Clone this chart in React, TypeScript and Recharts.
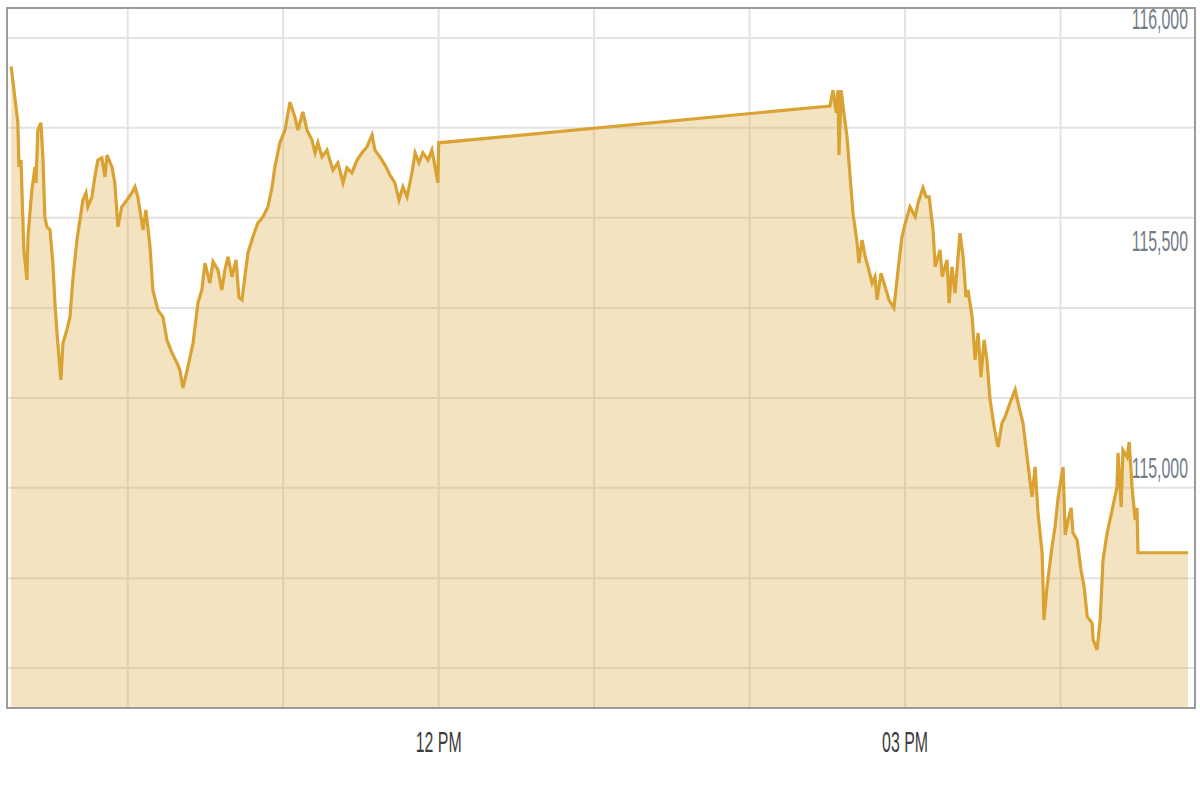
import React from 'react'
import { AreaChart, Area, XAxis, YAxis, CartesianGrid, ReferenceArea } from 'recharts'

// minutes since midnight (9:15 AM -> 555)
const times = [
  555, 557.6, 558.0, 558.8, 559.9, 561.1, 561.5, 563.0, 564.2, 564.6,
  565.3, 566.5, 567.3, 568.0, 568.8, 570.0, 571.1, 571.9, 572.7, 574.2,
  575.0, 576.5, 577.7, 578.8, 580.4, 582.7, 583.9, 584.6, 586.2, 587.3,
  588.5, 590.0, 591.2, 592.0, 593.9, 595.0, 596.2, 597.7, 599.7, 601.6,
  602.8, 603.9, 605.9, 607.0, 608.6, 609.7, 611.6, 613.6, 615.1, 617.1,
  619.0, 620.1, 621.3, 623.2, 625.2, 627.1, 628.6, 629.8, 631.7, 632.9,
  634.8, 636.3, 637.5, 638.7, 640.2, 641.8, 642.9, 644.1, 645.2, 646.4,
  648.3, 650.2, 652.2, 654.1, 655.7, 656.8, 658.7, 660.7, 662.6, 664.5,
  665.7, 667.6, 669.2, 671.1, 672.3, 673.4, 675.0, 676.9, 678.0, 679.2,
  681.1, 683.1, 684.6, 686.5, 688.5, 690.4, 692.3, 694.3, 695.4, 697.3,
  699.3, 701.2, 703.1, 704.7, 706.2, 707.8, 709.7, 710.9, 712.4, 713.9,
  715.9, 717.4, 718.6, 719.7, 720,
  871.0, 872.2, 873.4, 874.1, 874.5, 875.3, 876.1, 877.6, 878.8, 879.9,
  881.5, 882.2, 883.4, 884.6, 885.7, 887.3, 888.4, 889.2, 890.7, 892.3,
  893.8, 895.7, 897.3, 898.8, 900.4, 901.9, 903.9, 905.0, 906.9, 908.1,
  909.3, 910.8, 911.6, 913.5, 914.3, 916.2, 917.0, 918.1, 919.3, 921.2, 922.4,
  923.5, 924.3, 925.9, 927.0, 928.2, 929.3, 930.5, 931.6, 932.8, 934.4,
  935.1, 935.9, 937.4, 938.6, 940.5, 942.5, 944.0, 945.5, 947.1, 949.0,
  950.2, 951.3, 952.9, 953.6, 954.8, 956.7, 957.9, 959.1, 961.0, 961.8,
  962.9, 964.1, 964.8, 966.4, 967.9, 969.1, 970.3, 972.2, 972.6, 974.1,
  975.3, 976.4, 978.0, 979.9, 981.8, 982.2, 983.4, 984.1, 985.7, 986.5,
  987.6, 988.8, 989.5, 989.9, 1009.2,
]

const prices = [
  115882, 115758, 115661, 115676, 115478, 115412, 115507, 115610, 115661, 115626,
  115742, 115758, 115676, 115551, 115529, 115522, 115449, 115361, 115295, 115192,
  115273, 115302, 115330, 115412, 115500, 115588, 115604, 115573, 115595, 115639,
  115676, 115681, 115639, 115687, 115661, 115626, 115529, 115573, 115588, 115604,
  115617, 115595, 115522, 115566, 115485, 115390, 115346, 115330, 115280, 115251,
  115229, 115214, 115174, 115220, 115273, 115361, 115390, 115449, 115405, 115452,
  115434, 115390, 115434, 115463, 115419, 115456, 115374, 115368, 115419, 115471,
  115507, 115537, 115551, 115573, 115617, 115661, 115714, 115742, 115804, 115771,
  115742, 115782, 115742, 115720, 115692, 115714, 115683, 115698, 115676, 115654,
  115670, 115626, 115659, 115648, 115676, 115692, 115705, 115731, 115698, 115683,
  115665, 115643, 115626, 115588, 115617, 115595, 115648, 115692, 115670, 115692,
  115676, 115698, 115661, 115626, 115714,
  115795, 115830, 115780, 115830, 115687, 115830, 115793, 115727, 115639, 115559,
  115493, 115449, 115500, 115463, 115441, 115405, 115419, 115368, 115427, 115397,
  115368, 115350, 115434, 115507, 115544, 115573, 115551, 115581, 115615, 115595,
  115595, 115522, 115441, 115478, 115419, 115456, 115361, 115441, 115383, 115515, 115463,
  115374, 115390, 115330, 115236, 115295, 115198, 115280, 115236, 115148, 115088,
  115066, 115044, 115097, 115110, 115141, 115170, 115132, 115097, 115022, 114934,
  115000, 114899, 114811, 114663, 114736, 114824, 114868, 114934, 115000, 114850,
  114883, 114910, 114855, 114839, 114773, 114736, 114670, 114656, 114619, 114597,
  114663, 114795, 114855, 114905, 114956, 115031, 114912, 115037, 115022, 115055,
  114956, 114883, 114910, 114811, 114811,
]

const hourTicks = [600, 660, 720, 780, 840, 900, 960]
const hourLabels: Record<number, string> = { 720: '12 PM', 900: '03 PM' }
const priceTicks = [115000, 115500, 116000]
const gridValues = [115945, 115747, 115549, 115350, 115152, 114954, 114755, 114557]
const xDomain = [553.4, 1011.9]
const yDomain = [114469, 116011]

const data = times.map((t, i) => ({ t, price: prices[i] }))

const FONT = "'Liberation Sans', Arial, sans-serif"

const XTick = (props: any) => {
  const { x, y, payload } = props
  const label = hourLabels[payload.value]
  if (!label) return <g />
  return (
    <text
      transform={`translate(${x},${y + 33}) scale(0.53,1)`}
      textAnchor="middle"
      dominantBaseline="central"
      fontSize={30}
      fontFamily={FONT}
      fill="#3d3d3d"
    >
      {label}
    </text>
  )
}

const YTick = (props: any) => {
  const { x, y, payload } = props
  // top label sits against the frame, nudge it down so it stays on the page
  const shift = payload.value === priceTicks[priceTicks.length - 1] ? 5 : 0
  return (
    <text
      transform={`translate(${x - 7},${y + shift}) scale(0.53,1)`}
      textAnchor="end"
      dominantBaseline="central"
      fontSize={30}
      fontFamily={FONT}
      fill="#737d88"
    >
      {payload.value.toLocaleString('en-US')}
    </text>
  )
}

const App = () => {
  return (
    <div style={{ position: 'absolute', left: 0, top: 0, background: '#fff' }}>
      <AreaChart
        width={1200}
        height={800}
        data={data}
        margin={{ top: 8, right: 5, left: 7, bottom: 62 }}
      >
        <CartesianGrid
          stroke="#e3e3e3"
          strokeWidth={2}
          horizontalValues={gridValues}
          verticalValues={hourTicks}
        />
        <XAxis
          dataKey="t"
          type="number"
          domain={xDomain}
          ticks={hourTicks}
          tick={<XTick />}
          tickLine={false}
          tickSize={0}
          tickMargin={0}
          axisLine={false}
          height={30}
        />
        <YAxis
          type="number"
          domain={yDomain}
          ticks={priceTicks}
          orientation="right"
          mirror
          tick={<YTick />}
          tickLine={false}
          tickSize={0}
          tickMargin={0}
          axisLine={false}
        />
        <Area
          type="linear"
          dataKey="price"
          stroke="#d9a232"
          strokeWidth={3.2}
          fill="#d9a232"
          fillOpacity={0.3}
          dot={false}
          activeDot={false}
          isAnimationActive={false}
        />
        <ReferenceArea
          x1={xDomain[0]}
          x2={xDomain[1]}
          y1={yDomain[0]}
          y2={yDomain[1]}
          fill="none"
          fillOpacity={0}
          stroke="#9b9b9b"
          strokeWidth={2}
        />
        <ReferenceArea
          x1={xDomain[0]}
          x2={xDomain[1]}
          y1={yDomain[0]}
          y2={yDomain[0]}
          fillOpacity={0}
          stroke="#555"
          strokeWidth={3}
        />
      </AreaChart>
    </div>
  )
}

export default App
